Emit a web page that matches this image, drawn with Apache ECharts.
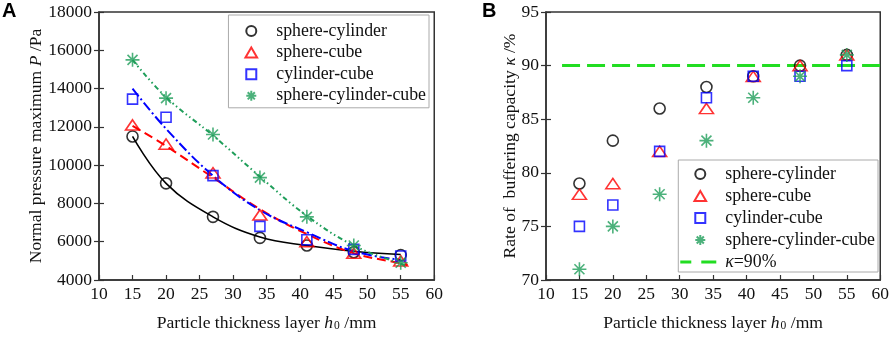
<!DOCTYPE html>
<html><head><meta charset="utf-8">
<script src="https://cdn.jsdelivr.net/npm/echarts@6/dist/echarts.min.js"></script>
<style>html,body{margin:0;padding:0;background:#fff}#a,#b{position:absolute;top:0;width:446px;height:337px}#a{left:0}#b{left:446px}</style>
</head><body><div id="a"></div><div id="b"></div>
<script>
// ---------- data ----------
const thickness = [15, 20, 27, 34, 41, 48, 55];
const seriesNames = ['sphere-cylinder', 'sphere-cube', 'cylinder-cube', 'sphere-cylinder-cube'];
// Panel A: normal pressure maximum P (Pa)
const pressureSphereCylinder = [11500, 9050, 7300, 6200, 5800, 5450, 5300];
const pressureSphereCube = [12100, 11100, 9600, 7400, 6000, 5400, 5000];
const pressureCylinderCube = [13450, 12500, 9450, 6800, 6100, 5600, 5250];
const pressureSCC = [15500, 13500, 11600, 9350, 7300, 5800, 4900];
// Panel A: fitted curves
const fitXSphereCylinder = [15, 20, 27, 34, 41, 48, 55];
const fitSphereCylinder = [11500, 9050, 7300, 6250, 5800, 5500, 5330];
const fitXSphereCube = [15, 20, 27, 34, 41, 48, 55, 56];
const fitSphereCube = [12050, 11000, 9350, 7700, 6400, 5400, 4870, 4780];
const fitXCylinderCube = [15, 20, 27, 34, 41, 48, 55];
const fitCylinderCube = [14000, 11900, 9450, 7650, 6500, 5500, 5050];
const fitXSCC = [15, 20, 27, 34, 41, 48, 55, 56];
const fitSCC = [15500, 13550, 11550, 9400, 7350, 5800, 4850, 4750];
// Panel B: rate of buffering capacity kappa (%)
const kappaSphereCylinder = [79, 83, 86, 88, 89, 90, 91];
const kappaSphereCube = [78, 79, 82, 86, 89, 90, 91];
const kappaCylinderCube = [75, 77, 82, 87, 89, 89, 90];
const kappaSCC = [71, 75, 78, 83, 87, 89, 91];
const kappaRefX = [12.4, 60];
const kappaRefY = [90, 90];
const kappaRefName = 'κ=90%';
// axes
const xMin = 10, xMax = 60, xStep = 5;
const pMin = 4000, pMax = 18000, pStep = 2000;
const kMin = 70, kMax = 95, kStep = 5;

// ---------- styles ----------
const SERIF = 'Liberation Serif';
const AX = '#333';
const zip = (xs, ys) => xs.map((x, i) => [x, ys[i]]);
const ASTER = 'path://M7 0L7 14M0 7L14 7M2 2L12 12M12 2L2 12';
const TRI = 'path://M7 0L14 12L0 12Z';
const SQR = 'path://M0 0L10 0L10 10L0 10Z';
const markerStyles = [
  {symbol: 'circle', symbolSize: 11, itemStyle: {color: 'transparent', borderColor: '#000', borderWidth: 1.6}},
  {symbol: TRI, symbolSize: [14, 12], itemStyle: {color: 'transparent', borderColor: '#ff0000', borderWidth: 1.6}},
  {symbol: SQR, symbolSize: 10, itemStyle: {color: 'transparent', borderColor: '#0000ff', borderWidth: 1.6}},
  {symbol: ASTER, symbolSize: 14, itemStyle: {color: 'transparent', borderColor: '#1f9e5a', borderWidth: 1.6}}
];
const legendIcons = ['circle', TRI, SQR, ASTER];
const richName = {
  n: {fontFamily: SERIF, fontSize: 17.6, color: '#111'},
  i: {fontFamily: SERIF, fontSize: 17.6, color: '#111', fontStyle: 'italic'},
  s: {fontFamily: SERIF, fontSize: 11.5, color: '#111', verticalAlign: 'bottom', padding: [0, 0, 0, 1]}
};
function xAxisOpt() {
  return {
    type: 'value', min: xMin, max: xMax, interval: xStep,
    axisLine: {lineStyle: {color: AX, width: 1.5}},
    axisTick: {inside: true, length: 5, lineStyle: {color: AX, width: 1.2}},
    axisLabel: {color: '#111', fontFamily: SERIF, fontSize: 17.5, margin: 5, formatter: v => String(v)},
    splitLine: {show: false},
    name: '{n|Particle thickness layer }{i|h}{s|0}{n| /mm}',
    nameLocation: 'middle', nameGap: 34, nameMoveOverlap: false,
    nameTextStyle: {rich: richName}
  };
}
function yAxisOpts(min, max, step, name, gap) {
  return [{
    type: 'value', min: min, max: max, interval: step, position: 'left',
    axisLine: {lineStyle: {color: AX, width: 1.5}},
    axisTick: {inside: true, length: 5, lineStyle: {color: AX, width: 1.2}},
    axisLabel: {color: '#111', fontFamily: SERIF, fontSize: 17.5, margin: 7, formatter: v => String(v)},
    splitLine: {show: false},
    name: name, nameLocation: 'middle', nameGap: gap, nameMoveOverlap: false,
    nameTextStyle: {rich: richName}
  }, {
    type: 'value', min: min, max: max, interval: step, position: 'left',
    axisLine: {show: false},
    axisTick: {inside: false, length: 5, lineStyle: {color: AX, width: 1.2}},
    axisLabel: {show: false}, splitLine: {show: false}
  }];
}
function legendOpt(right, top, padding, gap, names, extra) {
  return {
    right: right, top: top, orient: 'vertical', align: 'left',
    itemWidth: 40, itemHeight: 10, itemGap: gap, itemTextGap: 5,
    padding: padding, symbolKeepAspect: true,
    borderColor: '#aaa', borderWidth: 1, backgroundColor: '#fff',
    textStyle: {fontFamily: SERIF, fontSize: 17.8, color: '#111',
      rich: {i: {fontFamily: SERIF, fontSize: 17.8, fontStyle: 'italic', color: '#111'}}},
    formatter: n => n === kappaRefName ? '{i|κ}=90%' : n,
    data: names.map((n, i) => Object.assign({name: n, icon: legendIcons[i]}, extra && extra[n] || {})),
    selectedMode: false
  };
}
function scatter(i, xs, ys) {
  return Object.assign({type: 'scatter', name: seriesNames[i], data: zip(xs, ys), z: 5, symbolKeepAspect: true}, markerStyles[i]);
}
function fit(xs, ys, color, type, width) {
  return {type: 'line', data: zip(xs, ys), showSymbol: false, symbol: 'none', smooth: 0.4, z: 3,
    lineStyle: {color: color, type: type, width: width}, silent: true};
}
function panelLabel(t) {
  return {type: 'text', left: 2, top: 1, style: {text: t, fontFamily: 'Liberation Sans', fontWeight: 'bold', fontSize: 20, fill: '#000'}};
}

const chartA = echarts.init(document.getElementById('a'), null, {renderer: 'canvas'});
chartA.setOption({
  animation: false,
  grid: {left: 99, top: 12, width: 336, height: 270, show: true, borderColor: AX, borderWidth: 1.5, backgroundColor: 'transparent'},
  xAxis: xAxisOpt(),
  yAxis: yAxisOpts(pMin, pMax, pStep, '{n|Normal pressure maximum }{i|P}{n| /Pa}', 54),
  legend: legendOpt(17, 15, [7, 3, 3, 16], 3.6, seriesNames),
  graphic: [panelLabel('A')],
  series: [
    fit(fitXSphereCylinder, fitSphereCylinder, '#000', 'solid', 1.6),
    fit(fitXSphereCube, fitSphereCube, '#ff0000', [9, 5], 2),
    fit(fitXCylinderCube, fitCylinderCube, '#0000ff', [10, 3, 2, 3], 2),
    fit(fitXSCC, fitSCC, '#1f9e5a', [5, 3, 1.5, 3, 1.5, 3], 2),
    scatter(0, thickness, pressureSphereCylinder),
    scatter(1, thickness, pressureSphereCube),
    scatter(2, thickness, pressureCylinderCube),
    scatter(3, thickness, pressureSCC)
  ]
});

const legendExtraB = {};
legendExtraB[kappaRefName] = {
  icon: 'path://M0 0L11 0L11 3L0 3ZM21 0L36 0L36 3L21 3ZM40 1L40 2',
  itemStyle: {color: '#22dd22', borderColor: 'transparent', borderWidth: 0}
};
const chartB = echarts.init(document.getElementById('b'), null, {renderer: 'canvas'});
chartB.setOption({
  animation: false,
  grid: {left: 100, top: 12, width: 336, height: 270, show: true, borderColor: AX, borderWidth: 1.5, backgroundColor: 'transparent'},
  xAxis: xAxisOpt(),
  yAxis: yAxisOpts(kMin, kMax, kStep, '{n|Rate of  buffering capacity }{i|κ}{n| /%}', 27),
  legend: legendOpt(14, 160, [5, 3, 1, 2], 4, seriesNames.concat([kappaRefName]), legendExtraB),
  graphic: [Object.assign(panelLabel('B'), {left: 36})],
  series: [
    {type: 'line', name: kappaRefName, data: zip(kappaRefX, kappaRefY), showSymbol: false, symbol: 'none', z: 2,
      lineStyle: {color: '#22dd22', width: 3, type: [18, 7]}, itemStyle: {color: '#22dd22'}},
    scatter(0, thickness, kappaSphereCylinder),
    scatter(1, thickness, kappaSphereCube),
    scatter(2, thickness, kappaCylinderCube),
    scatter(3, thickness, kappaSCC)
  ]
});
</script></body></html>
